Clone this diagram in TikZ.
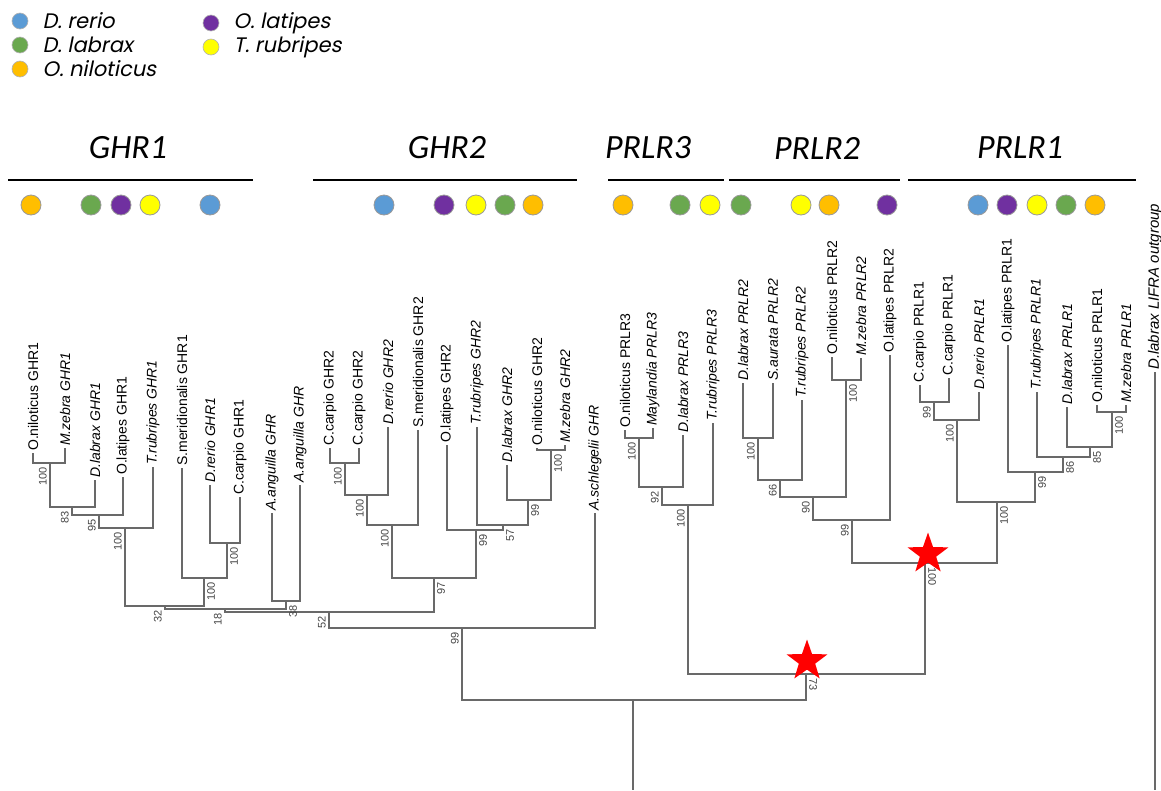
\documentclass[tikz,border=0pt]{standalone}
\usepackage{fontspec}
\setmainfont{Liberation Sans}
\newfontfamily\hdrfont{Carlito}
\newfontfamily\legfont[FakeSlant=0.2]{Poppins}
\usepackage{tikz}
\usetikzlibrary{positioning,shapes.geometric}
\definecolor{legblue}{RGB}{91,155,213}
\definecolor{leggreen}{RGB}{106,168,79}
\definecolor{legorange}{RGB}{255,190,0}
\definecolor{legpurple}{RGB}{112,48,160}
\definecolor{legyellow}{RGB}{255,255,0}
\definecolor{treegray}{RGB}{105,105,105}
\definecolor{bootgray}{RGB}{70,70,70}

\begin{document}
\begin{tikzpicture}[
        x=1pt, y=-1pt,
        branch/.style={draw=treegray, line width=1.8pt},
        tip/.style={rotate=90, anchor=west, inner sep=2pt, font=\fontsize{14}{16}\selectfont},
        tipit/.style={tip, font=\fontsize{14}{16}\selectfont\itshape},
        bsl/.style={xshift=-2pt, yshift=-3pt, rotate=90, anchor=south east, inner sep=1pt, text=bootgray, font=\fontsize{11}{12}\selectfont},
        bsr/.style={xshift=2pt, yshift=-3pt, rotate=90, anchor=north east, inner sep=1pt, text=bootgray, font=\fontsize{11}{12}\selectfont},
        bsd/.style={xshift=2pt, yshift=-3pt, rotate=-90, anchor=south west, inner sep=1pt, text=bootgray, font=\fontsize{11}{12}\selectfont},
        hdr/.style={font=\hdrfont\itshape\fontsize{34}{36}\selectfont},
        hdrline/.style={draw=black, line width=2.5pt},
        dot/.style={circle, minimum size=20pt, inner sep=0pt, draw=black!40, line width=0.8pt},
        legdot/.style={circle, minimum size=16pt, inner sep=0pt, draw=black!30, line width=0.6pt},
        legtxt/.style={inner sep=0pt, font=\legfont\fontsize{21}{23}\selectfont},
        redstar/.style={star, star points=5, star point ratio=2.5, minimum size=43pt, inner sep=0pt, fill=red, draw=none}
    ]
        \useasboundingbox (0,0) rectangle (1161,790);
        \fill[white] (0,0) rectangle (1161,790);

        % Legend
        \node[legdot, fill=legblue] (ldr) at (20,21) {};
        \node[legtxt, right=14pt of ldr] (tdr) {D. rerio};
        \node[legdot, fill=leggreen] (ldl) at (20,45) {};
        \node[legtxt, right=14pt of ldl] (tdl) {D. labrax};
        \node[legdot, fill=legorange] (lon) at (20,69) {};
        \node[legtxt, right=14pt of lon] (ton) {O. niloticus};
        \node[legdot, fill=legpurple] (lol) at (211,23) {};
        \node[legtxt, right=14pt of lol] (tol) {O. latipes};
        \node[legdot, fill=legyellow] (ltr) at (211,47) {};
        \node[legtxt, right=14pt of ltr] (ttr) {T. rubripes};

        % Clade headers
        \node[hdr] (hg1) at (128,148) {GHR1};
        \node[hdr] (hg2) at (447,148) {GHR2};
        \node[hdr] (hp3) at (648,148) {PRLR3};
        \node[hdr] (hp2) at (817,148) {PRLR2};
        \node[hdr] (hp1) at (1020,148) {PRLR1};
        \draw[hdrline] (8,180) -- (253,180);
        \draw[hdrline] (313,180) -- (577,180);
        \draw[hdrline] (608,180) -- (724,180);
        \draw[hdrline] (729,180) -- (900,180);
        \draw[hdrline] (908,180) -- (1136,180);

        % Species dots
        \node[dot, fill=legorange] (d1) at (31,205) {};
        \node[dot, fill=leggreen] (d2) at (91,205) {};
        \node[dot, fill=legpurple] (d3) at (121,205) {};
        \node[dot, fill=legyellow] (d4) at (150,205) {};
        \node[dot, fill=legblue] (d5) at (210,205) {};
        \node[dot, fill=legblue] (d6) at (384,205) {};
        \node[dot, fill=legpurple] (d7) at (444,205) {};
        \node[dot, fill=legyellow] (d8) at (476,205) {};
        \node[dot, fill=leggreen] (d9) at (505,205) {};
        \node[dot, fill=legorange] (d10) at (533,205) {};
        \node[dot, fill=legorange] (d11) at (623,205) {};
        \node[dot, fill=leggreen] (d12) at (680,205) {};
        \node[dot, fill=legyellow] (d13) at (710,205) {};
        \node[dot, fill=leggreen] (d14) at (741,205) {};
        \node[dot, fill=legyellow] (d15) at (801,205) {};
        \node[dot, fill=legorange] (d16) at (829,205) {};
        \node[dot, fill=legpurple] (d17) at (887,205) {};
        \node[dot, fill=legblue] (d18) at (978,205) {};
        \node[dot, fill=legpurple] (d19) at (1007,205) {};
        \node[dot, fill=legyellow] (d20) at (1037,205) {};
        \node[dot, fill=leggreen] (d21) at (1066,205) {};
        \node[dot, fill=legorange] (d22) at (1095,205) {};

        % Tips - GHR1
        \node[tip]   (onG1) at (33,453)  {O.niloticus GHR1};
        \node[tipit] (mzG1) at (65,448)  {M.zebra GHR1};
        \node[tipit] (dlG1) at (95,480)  {D.labrax GHR1};
        \node[tip]   (olG1) at (123,477) {O.latipes GHR1};
        \node[tipit] (trG1) at (153,467) {T.rubripes GHR1};
        \node[tip]   (smG1) at (182,468) {S.meridionalis GHR1};
        \node[tipit] (drG1) at (210,485) {D.rerio GHR1};
        \node[tip]   (ccG1) at (240,497) {C.carpio GHR1};
        \node[tipit] (aaG1) at (272,513) {A.anguilla GHR};
        \node[tipit] (aaG2) at (300,485) {A.anguilla GHR};

        % Tips - GHR2
        \node[tip]   (ccG2a) at (330,448) {C.carpio GHR2};
        \node[tip]   (ccG2b) at (359,448) {C.carpio GHR2};
        \node[tipit] (drG2) at (388,427)  {D.rerio GHR2};
        \node[tip]   (smG2) at (418,430)  {S.meridionalis GHR2};
        \node[tip]   (olG2) at (447,445)  {O.latipes GHR2};
        \node[tipit] (trG2) at (477,427)  {T.rubripes GHR2};
        \node[tipit] (dlG2) at (507,465)  {D.labrax GHR2};
        \node[tip]   (onG2) at (537,448)  {O.niloticus GHR2};
        \node[tipit] (mzG2) at (565,445)  {M.zebra GHR2};
        \node[tipit] (asGHR) at (595,513) {A.schlegelii GHR};

        % Tips - PRLR3
        \node[tip]   (onP3) at (625,430) {O.niloticus PRLR3};
        \node[tipit] (maP3) at (653,428) {Maylandia PRLR3};
        \node[tipit] (dlP3) at (683,435) {D.labrax PRLR3};
        \node[tipit] (trP3) at (713,423) {T.rubripes PRLR3};

        % Tips - PRLR2
        \node[tipit] (dlP2) at (743,383) {D.labrax PRLR2};
        \node[tipit] (saP2) at (773,383) {S.aurata PRLR2};
        \node[tipit] (trP2) at (802,400) {T.rubripes PRLR2};
        \node[tip]   (onP2) at (832,357) {O.niloticus PRLR2};
        \node[tipit] (mzP2) at (861,358) {M.zebra PRLR2};
        \node[tip]   (olP2) at (890,355) {O.latipes PRLR2};

        % Tips - PRLR1
        \node[tip]   (ccP1a) at (920,385) {C.carpio PRLR1};
        \node[tip]   (ccP1b) at (949,378) {C.carpio PRLR1};
        \node[tipit] (drP1) at (979,392)  {D.rerio PRLR1};
        \node[tip]   (olP1) at (1008,345) {O.latipes PRLR1};
        \node[tipit] (trP1) at (1037,392) {T.rubripes PRLR1};
        \node[tipit] (dlP1) at (1067,407) {D.labrax PRLR1};
        \node[tip]   (onP1) at (1097,405) {O.niloticus PRLR1};
        \node[tipit] (mzP1) at (1126,405) {M.zebra PRLR1};

        % Outgroup
        \node[tipit, font=\fontsize{15}{17}\selectfont\itshape] (outG) at (1155,372) {D.labrax LIFRA outgroup};
        \coordinate (outend) at (1155,790);

        % Internal nodes
        \coordinate (g1a) at (50,463);
        \coordinate (g1b) at (72,507);
        \coordinate (g1c) at (99,515);
        \coordinate (g1d) at (125,528);
        \coordinate (g1e) at (227,543);
        \coordinate (g1f) at (204,578);
        \coordinate (g1g) at (165,606);
        \coordinate (aan) at (286,601);
        \coordinate (g1h) at (225,609);
        \coordinate (g2a) at (345,463);
        \coordinate (g2b) at (367,495);
        \coordinate (g2c) at (392,525);
        \coordinate (g2d) at (551,450);
        \coordinate (g2e) at (528,500);
        \coordinate (g2f) at (503,525);
        \coordinate (g2g) at (476,530);
        \coordinate (g2h) at (434,578);
        \coordinate (ghra) at (329,612);
        \coordinate (ghrb) at (462,628);
        \coordinate (p3a) at (639,438);
        \coordinate (p3b) at (662,487);
        \coordinate (p3c) at (688,505);
        \coordinate (p2a) at (758,438);
        \coordinate (p2b) at (780,480);
        \coordinate (p2c) at (846,380);
        \coordinate (p2d) at (813,497);
        \coordinate (p2e) at (852,520);
        \coordinate (p1a) at (934,402);
        \coordinate (p1b) at (957,420);
        \coordinate (p1c) at (1112,412);
        \coordinate (p1d) at (1090,447);
        \coordinate (p1e) at (1063,457);
        \coordinate (p1f) at (1035,472);
        \coordinate (p1g) at (997,502);
        \coordinate (prla) at (925,563);
        \coordinate (prlb) at (806,674);
        \coordinate (root) at (633,700);
        \coordinate (rootend) at (633,790);

        % Branches - GHR1
        \draw[branch] (onG1.west) |- (g1a);
        \draw[branch] (mzG1.west) |- (g1a);
        \draw[branch] (g1a) |- (g1b);
        \draw[branch] (dlG1.west) |- (g1b);
        \draw[branch] (g1b) |- (g1c);
        \draw[branch] (olG1.west) |- (g1c);
        \draw[branch] (g1c) |- (g1d);
        \draw[branch] (trG1.west) |- (g1d);
        \draw[branch] (drG1.west) |- (g1e);
        \draw[branch] (ccG1.west) |- (g1e);
        \draw[branch] (smG1.west) |- (g1f);
        \draw[branch] (g1e) |- (g1f);
        \draw[branch] (g1d) |- (g1g);
        \draw[branch] (g1f) |- (g1g);
        \draw[branch] (aaG1.west) |- (aan);
        \draw[branch] (aaG2.west) |- (aan);
        \draw[branch] (g1g) |- (g1h);
        \draw[branch] (aan) |- (g1h);

        % Branches - GHR2
        \draw[branch] (ccG2a.west) |- (g2a);
        \draw[branch] (ccG2b.west) |- (g2a);
        \draw[branch] (g2a) |- (g2b);
        \draw[branch] (drG2.west) |- (g2b);
        \draw[branch] (g2b) |- (g2c);
        \draw[branch] (smG2.west) |- (g2c);
        \draw[branch] (onG2.west) |- (g2d);
        \draw[branch] (mzG2.west) |- (g2d);
        \draw[branch] (dlG2.west) |- (g2e);
        \draw[branch] (g2d) |- (g2e);
        \draw[branch] (trG2.west) |- (g2f);
        \draw[branch] (g2e) |- (g2f);
        \draw[branch] (olG2.west) |- (g2g);
        \draw[branch] (g2f) |- (g2g);
        \draw[branch] (g2c) |- (g2h);
        \draw[branch] (g2g) |- (g2h);
        \draw[branch] (g1h) |- (ghra);
        \draw[branch] (g2h) |- (ghra);
        \draw[branch] (ghra) |- (ghrb);
        \draw[branch] (asGHR.west) |- (ghrb);

        % Branches - PRLR3 / PRLR2 / PRLR1
        \draw[branch] (onP3.west) |- (p3a);
        \draw[branch] (maP3.west) |- (p3a);
        \draw[branch] (p3a) |- (p3b);
        \draw[branch] (dlP3.west) |- (p3b);
        \draw[branch] (p3b) |- (p3c);
        \draw[branch] (trP3.west) |- (p3c);
        \draw[branch] (dlP2.west) |- (p2a);
        \draw[branch] (saP2.west) |- (p2a);
        \draw[branch] (p2a) |- (p2b);
        \draw[branch] (trP2.west) |- (p2b);
        \draw[branch] (onP2.west) |- (p2c);
        \draw[branch] (mzP2.west) |- (p2c);
        \draw[branch] (p2b) |- (p2d);
        \draw[branch] (p2c) |- (p2d);
        \draw[branch] (p2d) |- (p2e);
        \draw[branch] (olP2.west) |- (p2e);
        \draw[branch] (ccP1a.west) |- (p1a);
        \draw[branch] (ccP1b.west) |- (p1a);
        \draw[branch] (p1a) |- (p1b);
        \draw[branch] (drP1.west) |- (p1b);
        \draw[branch] (onP1.west) |- (p1c);
        \draw[branch] (mzP1.west) |- (p1c);
        \draw[branch] (dlP1.west) |- (p1d);
        \draw[branch] (p1c) |- (p1d);
        \draw[branch] (trP1.west) |- (p1e);
        \draw[branch] (p1d) |- (p1e);
        \draw[branch] (olP1.west) |- (p1f);
        \draw[branch] (p1e) |- (p1f);
        \draw[branch] (p1b) |- (p1g);
        \draw[branch] (p1f) |- (p1g);
        \draw[branch] (p2e) |- (prla);
        \draw[branch] (p1g) |- (prla);
        \draw[branch] (p3c) |- (prlb);
        \draw[branch] (prla) |- (prlb);

        % Root and outgroup
        \draw[branch] (ghrb) |- (root);
        \draw[branch] (prlb) |- (root);
        \draw[branch] (root) -- (rootend);
        \draw[branch] (outG.west) -- (outend);

        % Bootstrap values
        \node[bsl] (s1) at (g1a) {100};
        \node[bsl] (s2) at (g1b) {83};
        \node[bsl] (s3) at (g1c) {95};
        \node[bsl] (s4) at (g1d) {100};
        \node[bsr] (s5) at (g1e) {100};
        \node[bsr] (s6) at (g1f) {100};
        \node[bsl] (s7) at (g1g) {32};
        \node[bsr] (s8) at (aan) {38};
        \node[bsl] (s9) at (g1h) {18};
        \node[bsl] (s10) at (g2a) {100};
        \node[bsl] (s11) at (g2b) {100};
        \node[bsl] (s12) at (g2c) {100};
        \node[bsr] (s13) at (g2d) {100};
        \node[bsr] (s14) at (g2e) {99};
        \node[bsr] (s15) at (g2f) {57};
        \node[bsr] (s16) at (g2g) {99};
        \node[bsr] (s17) at (g2h) {97};
        \node[bsl] (s18) at (ghra) {52};
        \node[bsl] (s19) at (ghrb) {99};
        \node[bsl] (s20) at (p3a) {100};
        \node[bsl] (s21) at (p3b) {92};
        \node[bsl] (s22) at (p3c) {100};
        \node[bsl] (s23) at (p2a) {100};
        \node[bsl] (s24) at (p2b) {66};
        \node[bsr] (s25) at (p2c) {100};
        \node[bsl] (s26) at (p2d) {90};
        \node[bsl] (s27) at (p2e) {99};
        \node[bsl] (s28) at (p1a) {99};
        \node[bsl] (s29) at (p1b) {100};
        \node[bsr] (s30) at (p1c) {100};
        \node[bsr] (s31) at (p1d) {85};
        \node[bsr] (s32) at (p1e) {86};
        \node[bsr] (s33) at (p1f) {99};
        \node[bsr] (s34) at (p1g) {100};
        \node[bsd] (s35) at (prla) {100};
        \node[bsd] (s36) at (prlb) {73};

        % Duplication stars
        \node[redstar] (star1) at (928,554) {};
        \node[redstar] (star2) at (807,661) {};
    \end{tikzpicture}
\end{document}
